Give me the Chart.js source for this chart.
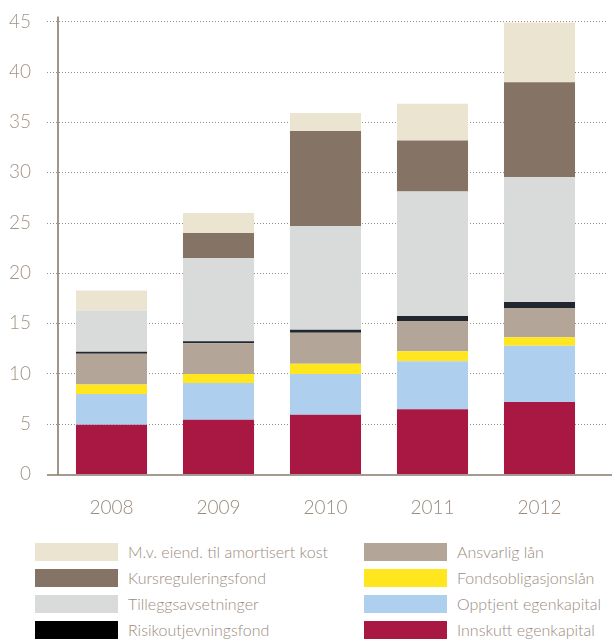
<!DOCTYPE html>
<html>
<head>
<meta charset="utf-8">
<script src="https://cdn.jsdelivr.net/npm/chart.js@4.4.1/dist/chart.umd.min.js"></script>
<style>
  html, body { margin:0; padding:0; background:#fff; }
  body { width:612px; height:639px; position:relative; overflow:hidden; font-family: Lato, "Open Sans", sans-serif; font-weight:300; }
  #wrap { position:absolute; left:0; top:-17px; width:612px; height:547px; }
  .lg { position:absolute; height:18px; display:flex; align-items:center; }
  .lg .box { width:83px; height:18px; flex:none; }
  .lg .txt { margin-left:10px; font-size:16px; color:#9a8b7e; white-space:nowrap; line-height:18px; }
</style>
</head>
<body>
<div id="wrap"><canvas id="c" width="612" height="547"></canvas></div>
<div id="legend"></div>
<script>
const years = ['2008', '2009', '2010', '2011', '2012'];
const yTicks = [0, 5, 10, 15, 20, 25, 30, 35, 40, 45];

const innskuttEgenkapital = [4.9, 5.4, 5.9, 6.45, 7.15];
const opptjentEgenkapital = [3.05, 3.65, 4.05, 4.75, 5.6];
const fondsobligasjonslan = [0.95, 0.9, 1.0, 1.0, 0.85];
const ansvarligLan = [3.05, 3.05, 3.1, 3.0, 2.9];
const risikoutjevningsfond = [0.2, 0.2, 0.3, 0.5, 0.6];
const tilleggsavsetninger = [4.1, 8.25, 10.3, 12.4, 12.4];
const kursreguleringsfond = [0, 2.5, 9.45, 5.05, 9.45];
const mvEiendAmortisert = [2.0, 2.0, 1.8, 3.65, 5.95];

const seriesNames = [
  'Innskutt egenkapital', 'Opptjent egenkapital', 'Fondsobligasjonslån', 'Ansvarlig lån',
  'Risikoutjevningsfond', 'Tilleggsavsetninger', 'Kursreguleringsfond', 'M.v. eiend. til amortisert kost'
];
const seriesData = [
  innskuttEgenkapital, opptjentEgenkapital, fondsobligasjonslan, ansvarligLan,
  risikoutjevningsfond, tilleggsavsetninger, kursreguleringsfond, mvEiendAmortisert
];
const seriesColors = ['#a91843', '#aed0ee', '#ffe61e', '#b3a699', '#22262e', '#d9dbdb', '#857465', '#eae4d0'];
const legendColors = ['#a91843', '#aed0ee', '#ffe61e', '#b3a699', '#000000', '#d9dbdb', '#857465', '#eae4d0'];

// legend layout: left column (top->bottom) then right column
const legendLeft = [7, 6, 5, 4];
const legendRight = [3, 2, 1, 0];

const decor = {
  id: 'decor',
  beforeDatasetsDraw(chart) {
    const { ctx, chartArea: a, scales: { y } } = chart;
    ctx.save();
    ctx.strokeStyle = '#9e8e80';
    ctx.lineWidth = 1;
    ctx.setLineDash([1, 2]);
    y.ticks.forEach(t => {
      if (t.value === 0) return;
      const py = Math.round(y.getPixelForValue(t.value)) + 0.5;
      ctx.beginPath();
      ctx.moveTo(a.left - 11, py);
      ctx.lineTo(a.right + 13, py);
      ctx.stroke();
    });
    ctx.restore();
  },
  afterDatasetsDraw(chart) {
    const { ctx, chartArea: a, scales: { y } } = chart;
    const y0 = y.getPixelForValue(0);
    ctx.save();
    ctx.strokeStyle = '#a59a8f';
    ctx.lineWidth = 2;
    ctx.beginPath();
    ctx.moveTo(a.left - 11, y0 + 1);
    ctx.lineTo(612, y0 + 1);
    ctx.stroke();
    ctx.strokeStyle = '#8b7a6b';
    ctx.lineWidth = 1.6;
    ctx.beginPath();
    ctx.moveTo(a.left, a.top - 5);
    ctx.lineTo(a.left, y0 + 1);
    ctx.stroke();
    ctx.restore();
  }
};

new Chart(document.getElementById('c'), {
  type: 'bar',
  data: {
    labels: years,
    datasets: seriesData.map((d, i) => ({
      label: seriesNames[i],
      data: d,
      backgroundColor: seriesColors[i],
      borderWidth: 0,
      barPercentage: 0.664,
      categoryPercentage: 1
    }))
  },
  options: {
    responsive: false,
    animation: false,
    devicePixelRatio: 1,
    layout: { padding: { left: 0, right: 19, top: 12, bottom: 0 } },
    plugins: { legend: { display: false }, tooltip: { enabled: false } },
    scales: {
      x: {
        stacked: true,
        grid: { display: false, drawTicks: false },
        border: { display: false },
        ticks: { color: '#9a8b7e', padding: 22, font: { family: 'Lato', size: 19, weight: 300 } },
        afterFit(s) { s.height = 56; }
      },
      y: {
        stacked: true,
        min: 0, max: 45,
        afterBuildTicks(s) { s.ticks = yTicks.map(v => ({ value: v })); },
        grid: { display: false, drawTicks: false },
        border: { display: false },
        ticks: { color: '#a39385', padding: 27, font: { family: 'Lato', size: 19, weight: 300 } },
        afterFit(s) { s.width = 58; }
      }
    }
  },
  plugins: [decor]
});

const legend = document.getElementById('legend');
const rowTops = [543, 569, 595, 621];
function addItem(idx, left, top) {
  const el = document.createElement('div');
  el.className = 'lg';
  el.style.left = left + 'px';
  el.style.top = top + 'px';
  el.innerHTML = '<div class="box" style="background:' + legendColors[idx] + '"></div><div class="txt">' + seriesNames[idx] + '</div>';
  legend.appendChild(el);
}
legendLeft.forEach((idx, r) => addItem(idx, 35, rowTops[r]));
legendRight.forEach((idx, r) => addItem(idx, 364, rowTops[r]));
</script>
</body>
</html>
